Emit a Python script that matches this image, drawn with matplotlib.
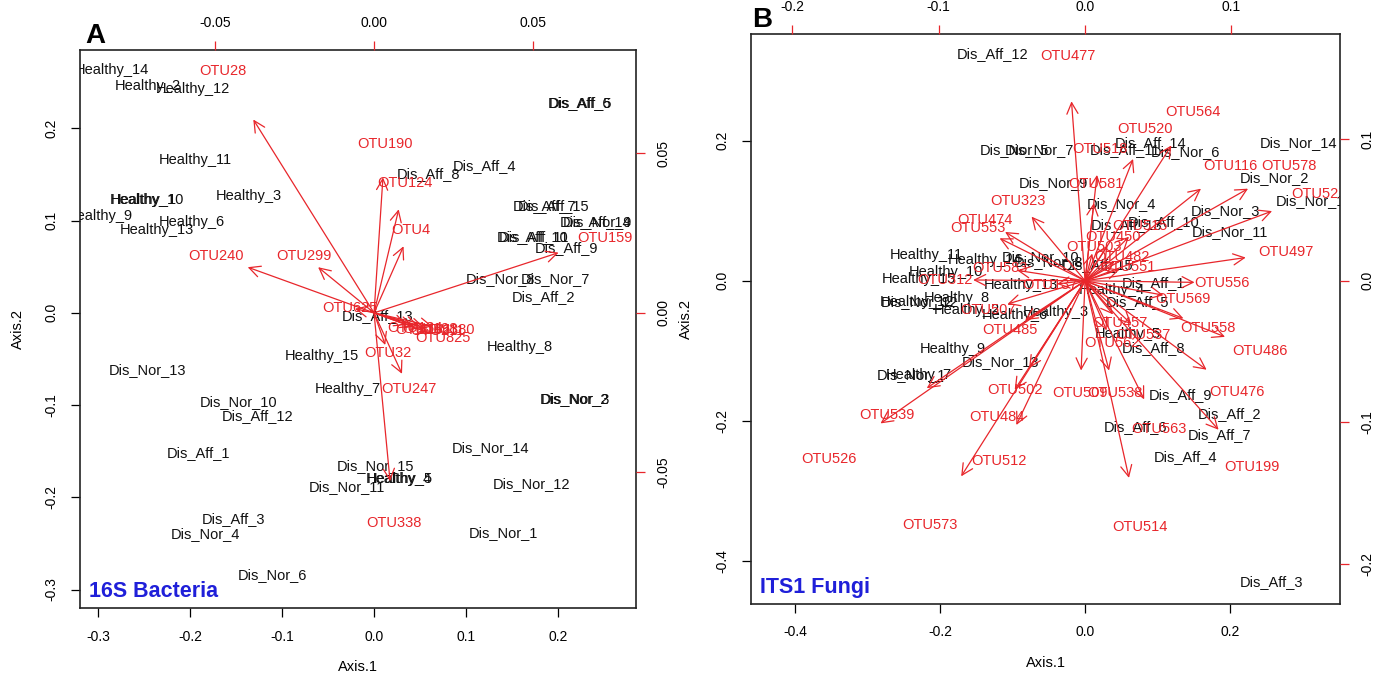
import matplotlib
matplotlib.use("Agg")
import matplotlib.pyplot as plt
from matplotlib.ticker import FormatStrFormatter

plt.rcParams['font.family'] = ['Liberation Sans', 'DejaVu Sans']
plt.rcParams['axes.unicode_minus'] = False

RED = '#e8262b'
BLUE = '#1f1fd9'

# ---- A: 16S bacteria, sample scores (bottom / left axes)
bac_samples = ['Healthy_14', 'Healthy_2', 'Healthy_12', 'Dis_Aff_6', 'Dis_Aff_5',
               'Healthy_11', 'Healthy_1', 'Healthy_10', 'Healthy_3', 'Healthy_9',
               'Healthy_6', 'Healthy_13', 'Dis_Aff_8', 'Dis_Aff_4', 'Dis_Aff_7',
               'Dis_Aff_15', 'Dis_Aff_14', 'Dis_Nor_9', 'Dis_Aff_10', 'Dis_Aff_11',
               'Dis_Aff_9', 'Dis_Nor_8', 'Dis_Nor_7', 'Dis_Aff_2', 'Dis_Aff_13',
               'Healthy_8', 'Healthy_15', 'Dis_Nor_13', 'Healthy_7', 'Dis_Nor_10',
               'Dis_Aff_12', 'Dis_Nor_2', 'Dis_Nor_3', 'Dis_Aff_1', 'Dis_Nor_14',
               'Dis_Nor_15', 'Healthy_4', 'Healthy_5', 'Dis_Nor_11', 'Dis_Nor_12',
               'Dis_Aff_3', 'Dis_Nor_4', 'Dis_Nor_1', 'Dis_Nor_6']
bac_x = [-0.285, -0.246, -0.197, 0.224, 0.225,
         -0.195, -0.251, -0.247, -0.136, -0.298,
         -0.198, -0.236, 0.059, 0.120, 0.186,
         0.195, 0.241, 0.243, 0.173, 0.174,
         0.209, 0.137, 0.197, 0.184, 0.004,
         0.159, -0.057, -0.247, -0.029, -0.147,
         -0.127, 0.218, 0.219, -0.191, 0.127,
         0.002, 0.027, 0.028, -0.029, 0.171,
         -0.153, -0.184, 0.141, -0.111]
bac_y = [0.263, 0.246, 0.243, 0.227, 0.227,
         0.166, 0.122, 0.122, 0.127, 0.105,
         0.099, 0.090, 0.151, 0.159, 0.116,
         0.116, 0.099, 0.098, 0.082, 0.082,
         0.070, 0.037, 0.037, 0.017, -0.003,
         -0.037, -0.047, -0.062, -0.083, -0.097,
         -0.112, -0.093, -0.093, -0.152, -0.147,
         -0.166, -0.180, -0.180, -0.189, -0.186,
         -0.223, -0.240, -0.239, -0.284]

# OTU loadings (top / right axes)
bac_otus = ['OTU28', 'OTU240', 'OTU299', 'OTU190', 'OTU124', 'OTU4', 'OTU159',
            'OTU625', 'OTU32', 'OTU247', 'OTU338',
            'OTU134', 'OTU166', 'OTU198', 'OTU211', 'OTU380', 'OTU825']
bac_otu_x = [-0.0475, -0.0497, -0.0220, 0.0035, 0.0097, 0.0116, 0.0726,
             -0.0075, 0.0044, 0.0110, 0.0063,
             0.0129, 0.0154, 0.0176, 0.0198, 0.0230, 0.0217]
bac_otu_y = [0.0758, 0.0179, 0.0179, 0.0531, 0.0406, 0.0261, 0.0236,
             0.0016, -0.0126, -0.0239, -0.0660,
             -0.0047, -0.0053, -0.0050, -0.0057, -0.0053, -0.0079]

# ---- B: ITS1 fungi, sample scores
fun_samples = ['Dis_Aff_12', 'Dis_Aff_14', 'Dis_Aff_11', 'Dis_Nor_6', 'Dis_Nor_14',
               'Dis_Nor_5', 'Dis_Nor_7', 'Dis_Nor_2', 'Dis_Nor_15', 'Dis_Nor_9',
               'Dis_Nor_4', 'Dis_Nor_3', 'Dis_Aff_13', 'Dis_Aff_10', 'Dis_Nor_11',
               'Dis_Nor_10', 'Dis_Nor_8', 'Dis_Aff_15', 'Healthy_11', 'Healthy_14',
               'Healthy_15', 'Healthy_10', 'Healthy_13', 'Healthy_4', 'Dis_Aff_1',
               'Dis_Aff_5', 'Healthy_8', 'Healthy_12', 'Dis_Nor_12', 'Healthy_2',
               'Healthy_6', 'Healthy_3', 'Healthy_5', 'Dis_Aff_8', 'Healthy_9',
               'Dis_Nor_13', 'Dis_Nor_1', 'Healthy_7', 'Dis_Aff_9', 'Dis_Aff_6',
               'Dis_Aff_2', 'Dis_Aff_7', 'Dis_Aff_4', 'Dis_Aff_3']
fun_x = [-0.128, 0.091, 0.055, 0.139, 0.295,
         -0.098, -0.063, 0.262, 0.316, -0.044,
         0.050, 0.194, 0.057, 0.109, 0.200,
         -0.062, -0.051, 0.017, -0.219, -0.138,
         -0.230, -0.192, -0.088, 0.037, 0.094,
         0.072, -0.177, -0.232, -0.229, -0.163,
         -0.097, -0.041, 0.059, 0.095, -0.182,
         -0.117, -0.239, -0.230, 0.132, 0.069,
         0.200, 0.186, 0.139, 0.257]
fun_y = [0.323, 0.196, 0.187, 0.183, 0.197,
         0.187, 0.187, 0.147, 0.114, 0.139,
         0.110, 0.100, 0.079, 0.084, 0.069,
         0.034, 0.027, 0.023, 0.037, 0.030,
         0.003, 0.013, -0.006, -0.013, -0.003,
         -0.031, -0.024, -0.030, -0.030, -0.041,
         -0.049, -0.044, -0.076, -0.096, -0.097,
         -0.116, -0.134, -0.134, -0.163, -0.209,
         -0.190, -0.220, -0.251, -0.430]

fun_otus = ['OTU477', 'OTU564', 'OTU520', 'OTU518', 'OTU116', 'OTU578', 'OTU521',
            'OTU581', 'OTU323', 'OTU474', 'OTU553', 'OTU515', 'OTU450', 'OTU503',
            'OTU482', 'OTU551', 'OTU497', 'OTU556', 'OTU569', 'OTU558', 'OTU485',
            'OTU583', 'OTU312', 'OTU137', 'OTU507', 'OTU457', 'OTU537', 'OTU562',
            'OTU486', 'OTU476', 'OTU502', 'OTU509', 'OTU538', 'OTU539', 'OTU484',
            'OTU573', 'OTU512', 'OTU514', 'OTU526', 'OTU563', 'OTU199']
fun_otu_x = [-0.0116, 0.0737, 0.0410, 0.0102, 0.0990, 0.1392, 0.1597,
             0.0075, -0.0457, -0.0683, -0.0730, 0.0375, 0.0191, 0.0061,
             0.0253, 0.0294, 0.1372, 0.0935, 0.0669, 0.0840, -0.0512,
             -0.0580, -0.0956, -0.0239, -0.0662, 0.0239, 0.0396, 0.0184,
             0.1195, 0.1038, -0.0478, -0.0034, 0.0205, -0.1352, -0.0601,
             -0.1058, -0.0587, 0.0375, -0.1747, 0.0505, 0.1140]
fun_otu_y = [0.1584, 0.1195, 0.1075, 0.0934, 0.0813, 0.0813, 0.0615,
             0.0686, 0.0566, 0.0431, 0.0375, 0.0389, 0.0311, 0.0240,
             0.0170, 0.0099, 0.0205, -0.0014, -0.0127, -0.0332, -0.0347,
             0.0092, 0.0007, -0.0028, -0.0205, -0.0297, -0.0382, -0.0438,
             -0.0495, -0.0785, -0.0771, -0.0792, -0.0792, -0.0948, -0.0962,
             -0.1726, -0.1273, -0.1740, -0.1259, -0.1047, -0.1315]


def biplot(rect, samples, sx, sy, otus, ox, oy, lim, ratio, ticks, lticks,
           lfmt, title, ylab_pad):
    ax = fig.add_axes(rect)
    ax.set_xlim(lim)
    ax.set_ylim(lim)
    ax.set_xticks(ticks)
    ax.set_yticks(ticks)
    ax.xaxis.set_major_formatter(FormatStrFormatter('%.1f'))
    ax.yaxis.set_major_formatter(FormatStrFormatter('%.1f'))
    ax.tick_params(direction='out', length=6.5, width=0.9, pad=9, labelsize=10)
    ax.tick_params(axis='y', labelrotation=90)
    plt.setp(ax.get_yticklabels(), va='center')
    for s in ax.spines.values():
        s.set_linewidth(1.2)
        s.set_color('#222222')
    ax.set_xlabel('Axis.1', fontsize=10.5, labelpad=12)
    ax.set_ylabel('Axis.2', fontsize=10.5, labelpad=ylab_pad)

    for name, x, y in zip(samples, sx, sy):
        ax.text(x, y, name, ha='center', va='center', fontsize=10.5,
                color='#111111', clip_on=True)
    ax.text(0.016, 0.02, title, transform=ax.transAxes, color=BLUE,
            fontsize=15.5, fontweight='bold', ha='left', va='baseline')

    # loadings on their own scale, like R's biplot
    axl = fig.add_axes(rect, frameon=False)
    axl.set_xlim(lim[0] / ratio, lim[1] / ratio)
    axl.set_ylim(lim[0] / ratio, lim[1] / ratio)
    axl.xaxis.tick_top()
    axl.yaxis.tick_right()
    axl.set_xticks(lticks)
    axl.set_yticks(lticks)
    axl.xaxis.set_major_formatter(FormatStrFormatter(lfmt))
    axl.yaxis.set_major_formatter(FormatStrFormatter(lfmt))
    axl.tick_params(direction='out', length=6.5, width=0.9, pad=8, labelsize=10,
                    color=RED, labelcolor='black')
    axl.tick_params(axis='y', labelrotation=90)
    plt.setp(axl.get_yticklabels(), va='center')

    for name, x, y in zip(otus, ox, oy):
        axl.annotate('', xy=(0.8 * x, 0.8 * y), xytext=(0, 0),
                     arrowprops=dict(arrowstyle='->,head_length=0.5,head_width=0.25',
                                     color=RED, lw=0.9, shrinkA=0, shrinkB=0,
                                     mutation_scale=16))
        axl.text(x, y, name, ha='center', va='center', fontsize=10.5,
                 color=RED, clip_on=True)
    return ax


fig = plt.figure(figsize=(13.88, 6.84), dpi=100)

biplot([0.0576, 0.1111, 0.4006, 0.8158], bac_samples, bac_x, bac_y,
       bac_otus, bac_otu_x, bac_otu_y, (-0.32, 0.285), 3.457,
       [-0.3, -0.2, -0.1, 0.0, 0.1, 0.2], [-0.05, 0.0, 0.05], '%.2f',
       '16S Bacteria', 14)
biplot([0.5411, 0.1170, 0.4244, 0.8333], fun_samples, fun_x, fun_y,
       fun_otus, fun_otu_x, fun_otu_y, (-0.461, 0.352), 2.02,
       [-0.4, -0.2, 0.0, 0.2], [-0.2, -0.1, 0.0, 0.1], '%.1f',
       'ITS1 Fungi', 16)

fig.text(0.0612, 0.937, 'A', fontsize=20, fontweight='bold', va='baseline')
fig.text(0.5418, 0.9605, 'B', fontsize=20, fontweight='bold', va='baseline')

fig.savefig('out.png', dpi=100)
